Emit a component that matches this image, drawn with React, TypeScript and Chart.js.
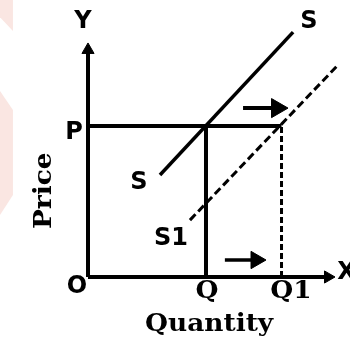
import React, { useEffect, useRef } from "react";
import { Chart, registerables } from "chart.js";

Chart.register(...registerables);

// Economic values (quantity on x, price on y)
const priceP = 6;
const quantityQ = 5;
const quantityQ1 = 8.2;
const axisXEnd = 10.17;
const axisYEnd = 9.02;

const supplyS = [
  { x: 3.05, y: 4.05 },
  { x: 8.69, y: 9.73 },
];
const supplyS1 = [
  { x: 4.32, y: 2.26 },
  { x: 10.59, y: 8.42 },
];
const shiftArrowUpper = [
  { x: 6.57, y: 6.71 },
  { x: 8.01, y: 6.71 },
];
const shiftArrowLower = [
  { x: 5.8, y: 0.675 },
  { x: 7.12, y: 0.675 },
];

const labelTexts = ["Y", "P", "S", "S", "S1", "O", "Q", "Q1", "X", "Quantity", "Price"];
const labelX = [-0.21, -0.59, 9.36, 2.16, 3.52, -0.47, 5.04, 8.6, 10.95, 5.13, -1.82];
const labelY = [10.13, 5.72, 10.13, 3.73, 1.51, -0.4, -0.58, -0.58, 0.16, -1.91, 3.43];
const labelSerif = [false, false, false, false, false, false, true, true, false, true, true];
const labelRot = [0, 0, 0, 0, 0, 0, 0, 0, 0, 0, -90];

const INK = "#000000";

const labelPlugin = {
  id: "labels",
  afterDatasetsDraw(chart: any) {
    const ctx = chart.ctx;
    const xs = chart.scales.x;
    const ys = chart.scales.y;
    ctx.save();
    ctx.fillStyle = INK;
    ctx.textAlign = "center";
    ctx.textBaseline = "middle";
    labelTexts.forEach((t, i) => {
      const px = xs.getPixelForValue(labelX[i]);
      const py = ys.getPixelForValue(labelY[i]);
      ctx.save();
      ctx.translate(px, py);
      ctx.rotate((labelRot[i] * Math.PI) / 180);
      if (labelSerif[i]) {
        ctx.scale(1.1, 1);
        ctx.font = "bold 24px 'DejaVu Serif'";
      } else {
        ctx.font = "bold 24px 'DejaVu Sans'";
      }
      ctx.fillText(t, 0, 0);
      ctx.restore();
    });
    ctx.restore();
  },
};

const watermarkPlugin = {
  id: "watermark",
  beforeDraw(chart: any) {
    const ctx = chart.ctx;
    const w = chart.width;
    const h = chart.height;
    ctx.save();
    ctx.fillStyle = "#ffffff";
    ctx.fillRect(0, 0, w, h);
    ctx.fillStyle = "#fae6e2";
    ctx.beginPath();
    ctx.moveTo(0, 0);
    ctx.lineTo(w * 0.037, 0);
    ctx.lineTo(w * 0.037, h * 0.09);
    ctx.lineTo(0, h * 0.05);
    ctx.closePath();
    ctx.fill();
    ctx.beginPath();
    ctx.moveTo(0, h * 0.264);
    ctx.lineTo(w * 0.037, h * 0.319);
    ctx.lineTo(w * 0.037, h * 0.565);
    ctx.lineTo(0, h * 0.623);
    ctx.closePath();
    ctx.fill();
    ctx.restore();
  },
};

export default function App() {
  const ref = useRef<HTMLCanvasElement | null>(null);
  useEffect(() => {
    if (!ref.current) return;
    const solid = (data: any[], width: number, extra: any = {}) => ({
      data,
      showLine: true,
      borderColor: INK,
      backgroundColor: INK,
      borderWidth: width,
      pointRadius: 0,
      pointBorderWidth: 1,
      borderCapStyle: "butt",
      ...extra,
    });
    const chart = new Chart(ref.current, {
      type: "scatter",
      data: {
        datasets: [
          // Y axis with arrowhead
          solid(
            [
              { x: 0, y: 0 },
              { x: 0, y: axisYEnd },
            ],
            4,
            { pointRadius: [0, 7], pointStyle: "triangle", pointRotation: 0 }
          ),
          // X axis with arrowhead
          solid(
            [
              { x: 0, y: 0 },
              { x: axisXEnd, y: 0 },
            ],
            4,
            { pointRadius: [0, 7], pointStyle: "triangle", pointRotation: 90 }
          ),
          // Price line P
          solid(
            [
              { x: 0, y: priceP },
              { x: quantityQ1, y: priceP },
            ],
            4
          ),
          // Quantity Q vertical
          solid(
            [
              { x: quantityQ, y: 0 },
              { x: quantityQ, y: priceP },
            ],
            4
          ),
          // Quantity Q1 dashed vertical
          solid(
            [
              { x: quantityQ1, y: 0 },
              { x: quantityQ1, y: priceP },
            ],
            3,
            { borderDash: [6, 3] }
          ),
          // Supply S
          solid(supplyS, 3.5),
          // Supply S1 dashed
          solid(supplyS1, 3, { borderDash: [8, 4] }),
          // Shift arrows
          solid(shiftArrowUpper, 4, {
            pointRadius: [0, 11],
            pointStyle: "triangle",
            pointRotation: 90,
          }),
          solid(shiftArrowLower, 3.5, {
            pointRadius: [0, 10],
            pointStyle: "triangle",
            pointRotation: 90,
          }),
        ],
      },
      options: {
        animation: false,
        responsive: false,
        maintainAspectRatio: false,
        layout: { padding: 0, autoPadding: false },
        scales: {
          x: { type: "linear", min: -3.729, max: 11.102, display: false },
          y: { type: "linear", min: -2.702, max: 11.005, display: false },
        },
        plugins: {
          legend: { display: false },
          tooltip: { enabled: false },
        },
      },
      plugins: [watermarkPlugin, labelPlugin],
    } as any);
    return () => chart.destroy();
  }, []);
  return (
    <div style={{ position: "fixed", left: 0, top: 0, width: 350, height: 345 }}>
      <canvas ref={ref} width={350} height={345} style={{ display: "block" }} />
    </div>
  );
}
